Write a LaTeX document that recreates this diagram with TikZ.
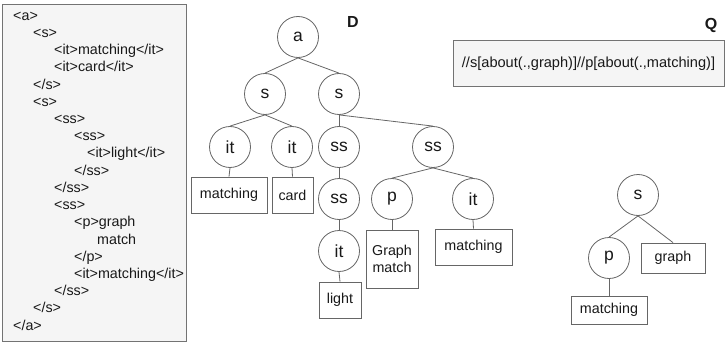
\documentclass[tikz,border=0pt]{standalone}
\usepackage{fontspec}
\setmainfont{Liberation Sans}
\begin{document}
\begin{tikzpicture}[x=1pt,y=-1pt,
  every node/.style={text=black!90},
  xmlline/.style={anchor=west,inner sep=0pt,font=\fontsize{14.3}{16}\selectfont,text height=10pt,text depth=3pt},
  elem/.style={circle,draw=black!60,line width=0.8pt,fill=white,minimum size=41pt,inner sep=0pt,font=\fontsize{17.5}{19}\selectfont},
  leaf/.style={rectangle,draw=black!60,line width=0.8pt,fill=white,inner sep=0pt,font=\fontsize{14.3}{17}\selectfont,align=center},
  edge/.style={draw=black!60,line width=0.8pt},
  title/.style={font=\fontsize{16}{18}\selectfont\bfseries,inner sep=0pt}]
\useasboundingbox (0,0) rectangle (725,342);

% XML source panel
\node[draw=black!55,line width=1.2pt,fill=black!4,minimum width=184pt,minimum height=337pt,inner sep=0pt,anchor=north west] (panel) at (2,4) {};
\foreach \x/\t [count=\i] in {
  13/{<a>},
  33/{<s>},
  54/{<it>matching</it>},
  54/{<it>card</it>},
  33/{</s>},
  33/{<s>},
  54/{<ss>},
  74/{<ss>},
  87/{<it>light</it>},
  74/{</ss>},
  54/{</ss>},
  54/{<ss>},
  74/{<p>graph},
  97/{match},
  74/{</p>},
  74/{<it>matching</it>},
  54/{</ss>},
  33/{</s>},
  13/{</a>}}
  \node[xmlline] (xml\i) at (\x,{16.7+17.22*(\i-1)}) {\t};

% document tree D
\node[title] (dlabel) at (353,22) {D};
\node[elem] (a)   at (298,37)  {a};
\node[elem] (s1)  at (265,94)  {s};
\node[elem] (s2)  at (339,94)  {s};
\node[elem] (it1) at (230,147) {it};
\node[elem] (it2) at (292,147) {it};
\node[elem] (ss1) at (339,147) {ss};
\node[elem] (ss2) at (433,147) {ss};
\node[elem] (ss3) at (339,199) {ss};
\node[elem] (p1)  at (392,199) {p};
\node[elem] (it4) at (473,199) {it};
\node[elem] (it3) at (339,251) {it};

\node[leaf,minimum width=76pt,minimum height=36pt] (w1) at (229,195) {matching};
\node[leaf,minimum width=41pt,minimum height=36pt] (w2) at (292.5,195) {card};
\node[leaf,minimum width=42pt,minimum height=36pt] (w3) at (340,300) {light};
\node[leaf,minimum width=52pt,minimum height=58pt] (w4) at (392,259) {Graph\\match};
\node[leaf,minimum width=77pt,minimum height=36pt] (w5) at (473.5,247) {matching};

\draw[edge] (a.south) -- (s1.north);
\draw[edge] (a.south) -- (s2.north);
\draw[edge] (s1.south) -- (it1.north);
\draw[edge] (s1.south) -- (it2.north);
\draw[edge] (s2.south) -- (ss1.north);
\draw[edge] (s2.south) -- (ss2.north);
\draw[edge] (ss1.south) -- (ss3.north);
\draw[edge] (ss3.south) -- (it3.north);
\draw[edge] (ss2.south) -- (p1.north);
\draw[edge] (ss2.south) -- (it4.north);
\draw[edge] (it1.south) -- (w1.north);
\draw[edge] (it2.south) -- (w2.north);
\draw[edge] (it3.south) -- (w3.north);
\draw[edge] (p1.south) -- (w4.north);
\draw[edge] (it4.south) -- (w5.north);

% query Q
\node[title] (qlabel) at (711,25) {Q};
\node[draw=black!55,line width=1pt,fill=black!4,minimum width=271pt,minimum height=46pt,inner sep=0pt,font=\fontsize{14.6}{17}\selectfont] (query) at (588.5,64) {//s[about(.,graph)]//p[about(.,matching)]};

\node[elem] (qs) at (638,195) {s};
\node[elem] (qp) at (609,258) {p};
\node[leaf,minimum width=64pt,minimum height=30pt] (qg) at (673,258) {graph};
\node[leaf,minimum width=76pt,minimum height=28pt] (qm) at (609,310) {matching};
\draw[edge] (qs.south) -- (qp.north);
\draw[edge] (qs.south) -- (qg.north);
\draw[edge] (qp.south) -- (qm.north);
\end{tikzpicture}
\end{document}
